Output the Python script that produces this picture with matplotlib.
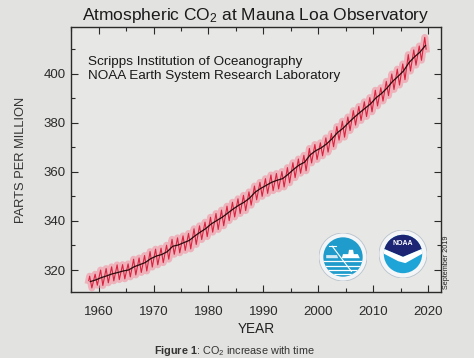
import numpy as np
import matplotlib.pyplot as plt
from matplotlib.patches import Circle, Polygon

plt.rcParams['font.family'] = ['Liberation Sans', 'DejaVu Sans']
plt.rcParams['mathtext.fontset'] = 'custom'
plt.rcParams['mathtext.rm'] = 'Liberation Sans'
plt.rcParams['mathtext.it'] = 'Liberation Sans:italic'
plt.rcParams['mathtext.bf'] = 'Liberation Sans:bold'

# yearly values (ppm)
years = list(range(1958, 2020))
annual_mean = [315.3, 315.98, 316.91, 317.64, 318.45, 318.99, 319.62, 320.04, 321.37, 322.18,
               323.05, 324.62, 325.68, 326.32, 327.46, 329.68, 330.19, 331.13, 332.03, 333.84,
               335.41, 336.84, 338.76, 340.12, 341.48, 343.15, 344.85, 346.35, 347.61, 349.31,
               351.69, 353.20, 354.45, 355.70, 356.54, 357.21, 358.96, 360.97, 362.74, 363.88,
               366.84, 368.54, 369.71, 371.32, 373.45, 375.98, 377.70, 379.98, 382.09, 384.02,
               385.83, 387.64, 390.10, 391.85, 394.06, 396.74, 398.81, 401.01, 404.41, 406.76,
               408.72, 411.40]
# seasonal maximum (May) and minimum (late Sept / Oct)
may_peak = [317.5, 318.3, 320.0, 320.6, 321.3, 322.1, 322.2, 322.5, 324.4, 324.9,
            325.9, 327.5, 328.5, 328.9, 330.1, 332.5, 333.1, 333.9, 334.9, 336.8,
            338.0, 339.5, 341.5, 343.0, 344.4, 346.0, 347.6, 349.0, 350.4, 351.8,
            354.2, 355.7, 357.2, 358.7, 359.3, 360.1, 361.7, 363.7, 365.2, 366.7,
            369.5, 371.1, 371.8, 373.8, 375.6, 378.4, 380.6, 382.3, 384.9, 386.6,
            388.5, 390.2, 393.2, 394.2, 396.8, 399.8, 401.8, 403.9, 407.7, 409.6,
            411.2, 414.7]
oct_trough = [312.7, 313.8, 313.7, 314.8, 315.6, 316.1, 316.4, 317.2, 318.0, 319.0,
              319.6, 321.2, 322.1, 323.0, 324.4, 326.4, 327.0, 328.0, 328.6, 330.4,
              332.4, 333.6, 335.4, 336.5, 338.0, 340.1, 341.6, 343.0, 344.2, 346.4,
              348.6, 350.0, 351.2, 352.3, 353.0, 353.8, 355.5, 357.6, 359.4, 360.4,
              363.6, 365.0, 366.5, 368.0, 370.2, 372.9, 374.1, 376.8, 379.0, 380.9,
              382.5, 384.4, 386.8, 388.8, 391.0, 393.5, 395.3, 397.5, 401.0, 403.4,
              405.4]
first_month = (1958, 3, 315.7)
last_month = (2019, 8, 409.9)

# build the monthly-like zigzag from the seasonal extremes
mx = [first_month[0] + (first_month[1] - 0.5) / 12]
my = [first_month[2]]
for i, yr in enumerate(years):
    mx.append(yr + 4.5 / 12)
    my.append(may_peak[i])
    if i < len(oct_trough):
        mx.append(yr + 9.3 / 12)
        my.append(oct_trough[i])
mx.append(last_month[0] + (last_month[1] - 0.5) / 12)
my.append(last_month[2])

bx = [y + 0.5 for y in years]

fig = plt.figure(figsize=(4.74, 3.58), dpi=100, facecolor='#e2e2e0')
ax = fig.add_axes([0.150, 0.184, 0.780, 0.741])
ax.set_facecolor('#e7e7e5')

ax.plot(mx, my, color='#f4909f', lw=5, alpha=0.6, solid_joinstyle='round')
ax.plot(mx, my, color='#d9233f', lw=0.8)
ax.plot(bx, annual_mean, color='#2a0c0c', lw=0.9)

ax.set_xlim(1956.0, 2022.3)
ax.set_ylim(311, 419)
ax.set_xticks(range(1960, 2021, 10))
ax.set_xticks(range(1955, 2022, 5), minor=True)
ax.set_yticks(range(320, 401, 20))
ax.set_yticks(range(320, 411, 10), minor=True)
ax.tick_params(which='both', direction='in', top=True, right=True, colors='#2a2a2a',
               labelsize=9.5, width=0.8)
ax.tick_params(which='major', length=5)
ax.tick_params(axis='x', which='major', pad=10)
ax.tick_params(axis='y', which='major', pad=4)
ax.tick_params(which='minor', length=3)
for s in ax.spines.values():
    s.set_color('#2a2a2a')
    s.set_linewidth(1.0)

ax.set_xlabel('YEAR', fontsize=9.8, color='#222222', labelpad=3)
ax.set_ylabel('PARTS PER MILLION', fontsize=9.3, color='#333333', labelpad=12)

ax.text(0.047, 0.89, 'Scripps Institution of Oceanography\nNOAA Earth System Research Laboratory',
        transform=ax.transAxes, fontsize=9.7, color='#1a1a1a', va='top', linespacing=1.2)

fig.text(0.54, 0.958, r'Atmospheric CO$_2$ at Mauna Loa Observatory', ha='center', va='center',
         fontsize=12.5, color='#1a1a1a')
fig.text(0.494, 0.02, r'$\mathbf{Figure\ 1}$: CO$_2$ increase with time', ha='center',
         va='center', fontsize=7.8, color='#333333')
fig.text(0.941, 0.268, 'September 2019', rotation=90, ha='center', va='center',
         fontsize=5.2, color='#222222')


def logo_axes(cx, cy, r):
    la = fig.add_axes([(cx - r) / 474, (358 - cy - r) / 358, 2 * r / 474, 2 * r / 358])
    la.set_xlim(-1, 1)
    la.set_ylim(-1, 1)
    la.axis('off')
    return la


# Scripps logo
sa = logo_axes(343, 257, 24)
sa.add_patch(Circle((0, 0), 1.0, fc='#f3f5f7', ec='#b8c2cc', lw=0.6))
inner = Circle((0, 0), 0.82, fc='#1f9ccb', ec='none')
sa.add_patch(inner)
for yy in [-0.18, -0.36, -0.54, -0.7]:
    ln, = sa.plot([-1, 1], [yy, yy], color='white', lw=0.9)
    ln.set_clip_path(inner)
sa.add_patch(Polygon([(-0.05, -0.05), (0.7, -0.05), (0.62, 0.12), (0.45, 0.12), (0.42, 0.3),
                      (0.25, 0.3), (0.22, 0.12), (0.0, 0.12)], fc='white', ec='none'))
sa.add_patch(Polygon([(-0.7, -0.05), (-0.2, -0.05), (-0.25, 0.08), (-0.7, 0.08)],
                     fc='#cfe9f5', ec='none'))
sa.plot([-0.45, 0.35], [0.45, -0.6], color='white', lw=0.8)
sa.plot([-0.6, -0.3], [0.45, 0.45], color='white', lw=0.8)

# NOAA logo
na = logo_axes(403, 254, 24)
na.add_patch(Circle((0, 0), 1.0, fc='#f3f5f7', ec='#b8c2cc', lw=0.6))
ring = Circle((0, 0), 0.8, fc='#1ea4d6', ec='none')
na.add_patch(ring)
top = Polygon([(-1, 0.3), (0, -0.12), (1, 0.3), (1, 1), (-1, 1)], fc='#1b2573', ec='none')
na.add_patch(top)
top.set_clip_path(ring)
gull = Polygon([(-1, 0.3), (0, -0.12), (1, 0.3), (1, 0.12), (0.1, -0.38), (-0.2, -0.3),
                (-1, 0.12)], fc='white', ec='none')
na.add_patch(gull)
gull.set_clip_path(ring)
na.text(0, 0.42, 'NOAA', color='white', fontsize=5, fontweight='bold', ha='center', va='center')

fig.savefig('out.png', dpi=100, facecolor=fig.get_facecolor())
